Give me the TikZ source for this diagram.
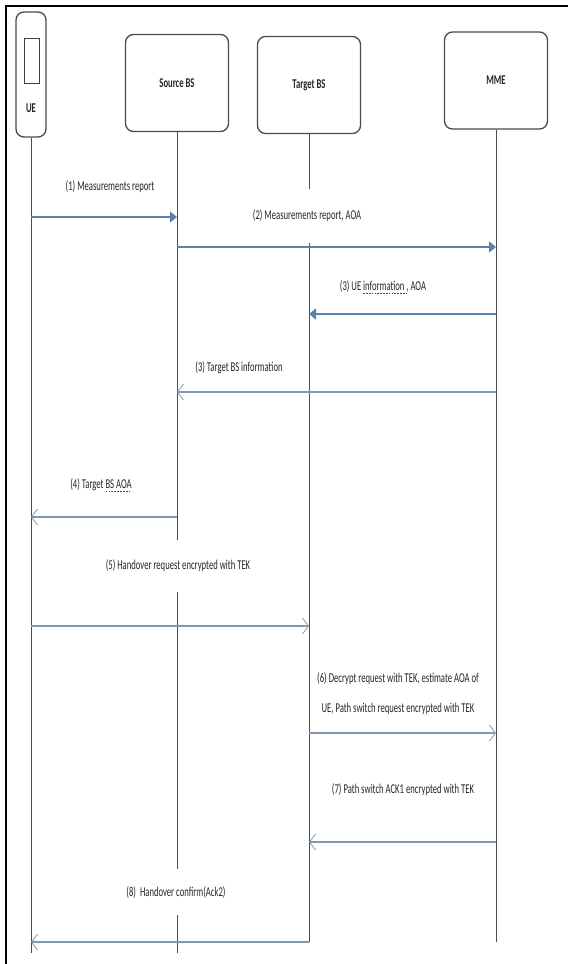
\documentclass[tikz,border=0pt]{standalone}
\usepackage{fontspec}
\setmainfont{Carlito}
\newfontfamily\lblfont[FakeStretch=0.64]{Carlito}
\usepackage{xcolor}
\usetikzlibrary{arrows.meta, positioning}

\definecolor{msgblue}{HTML}{5A82AB}
\definecolor{msggray}{HTML}{8299B0}
\definecolor{boxline}{HTML}{4A4A4A}
\definecolor{squig}{HTML}{3A3AA0}
\newcommand\spellmark[1]{\setbox0\hbox{#1}\rlap{\textcolor{squig}{\lower0.5ex\hbox to\wd0{\xleaders\hbox{\rule{0.12em}{0.5pt}\kern0.08em}\hfil}}}#1}

\begin{document}
\begin{tikzpicture}[
        x=1pt, y=-1pt,
        every node/.style={font=\lblfont\fontsize{13.5}{16}\selectfont, text=black!85},
        entity/.style={draw=boxline, line width=1.3pt, rectangle, rounded corners=8pt, minimum width=103pt, minimum height=97pt, font=\lblfont\bfseries\fontsize{13.5}{16}\selectfont},
        lifeline/.style={draw=black!70, line width=0.8pt},
        msg/.style={fill=white, minimum height=46pt, inner xsep=4pt, align=center},
        sendarrow/.style={-{Triangle[length=7pt, width=11pt]}, draw=msgblue, fill=msgblue, line width=1.6pt},
        replyarrow/.style={-{Straight Barb[length=6pt, width=16pt, line width=0.8pt]}, draw=msggray, line width=1.6pt}
    ]
    % Frame
    \fill[white] (0,0) rectangle (568,964);
    \useasboundingbox (0,0) rectangle (568,964);
    \draw[line width=2.5pt] (6,964) -- (6,6) -- (568,6);

    % Nodes
    \node[entity, minimum width=30pt, minimum height=125pt] (ue) at (31,74.5) {};
    \node[draw=black!75, line width=1pt, minimum width=15pt, minimum height=45pt, inner sep=0pt] (ue-screen) at (31.5,60.5) {};
    \node[font=\lblfont\bfseries\fontsize{13.5}{16}\selectfont] (ue-name) at (31,108) {UE};
    \node[entity] (source) at (177,83) {Source BS};
    \node[entity] (target) at (309,85) {Target BS};
    \node[entity] (mme) at (496,80.5) {MME};

    % Lifelines
    \coordinate (bottom) at (0,953);
    \coordinate (end) at (0,942);
    \draw[lifeline] (ue) -- (ue |- bottom);
    \draw[lifeline] (source) -- (source |- bottom);
    \draw[lifeline] (target) -- (target |- end);
    \draw[lifeline] (mme) -- (mme |- end);

    % Labels
    \node[msg] (l1) at (110,187) {(1) Measurements report};
    \node[msg, minimum height=54pt] (l2) at (307,216) {(2) Measurements report, AOA};
    \node[msg] (l3) at (383,287) {(3) UE \spellmark{information ,} AOA};
    \node[msg] (l4) at (239,368) {(3) Target BS information};
    \node[msg] (l5) at (101,485) {(4) Target \spellmark{BS AOA}};
    \node[msg, minimum height=52pt] (l6) at (178,566) {(5) Handover request encrypted with TEK};
    \node[msg] (l7) at (398,694) {(6) Decrypt request with TEK, estimate AOA of\\[14pt]UE, Path switch request encrypted with TEK};
    \node[msg] (l8) at (403,790) {(7) Path switch ACK1 encrypted with TEK};
    \node[msg] (l9) at (176,892) {(8)\ \ Handover confirm(Ack2)};

    % Arrows
    \coordinate (m1) at (0,217);
    \coordinate (m2) at (0,247);
    \coordinate (m3) at (0,314);
    \coordinate (m4) at (0,392);
    \coordinate (m5) at (0,517);
    \coordinate (m6) at (0,626);
    \coordinate (m7) at (0,733);
    \coordinate (m8) at (0,842);
    \draw[sendarrow] (ue |- m1) -- (source |- m1);
    \draw[sendarrow] (source |- m2) -- (mme |- m2);
    \draw[sendarrow] (mme |- m3) -- (target |- m3);
    \draw[replyarrow] (mme |- m4) -- (source |- m4);
    \draw[replyarrow] (source |- m5) -- (ue |- m5);
    \draw[replyarrow] (ue |- m6) -- (target |- m6);
    \draw[replyarrow] (target |- m7) -- (mme |- m7);
    \draw[replyarrow] (mme |- m8) -- (target |- m8);
    \draw[replyarrow] (target |- end) -- (ue |- end);
\end{tikzpicture}
\end{document}
